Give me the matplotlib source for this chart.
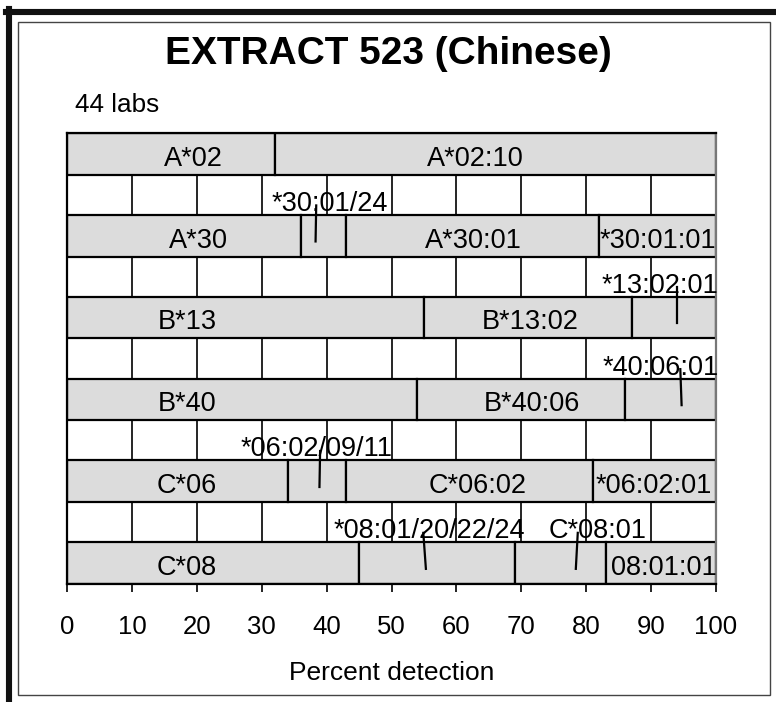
import matplotlib.pyplot as plt
from matplotlib.lines import Line2D
from matplotlib.patches import Rectangle

plt.rcParams["font.family"] = ["Liberation Sans", "DejaVu Sans"]

# one row per locus, top to bottom
rows = ["A*02", "A*30", "B*13", "B*40", "C*06", "C*08"]

# segment edges (percent detection) for each row
edges = [
    [0, 32, 100],
    [0, 36, 43, 82, 100],
    [0, 55, 87, 100],
    [0, 54, 86, 100],
    [0, 34, 43, 81, 100],
    [0, 45, 69, 83, 100],
]

# labels written inside the bars: (row, x, text)
inside_labels = [
    (0, 19.4, "A*02"), (0, 62.9, "A*02:10"),
    (1, 20.2, "A*30"), (1, 62.6, "A*30:01"), (1, 91.0, "*30:01:01"),
    (2, 18.5, "B*13"), (2, 71.3, "B*13:02"),
    (3, 18.5, "B*40"), (3, 71.6, "B*40:06"),
    (4, 18.5, "C*06"), (4, 63.2, "C*06:02"), (4, 90.4, "*06:02:01"),
    (5, 18.5, "C*08"), (5, 92.0, "08:01:01"),
]

# labels written above a bar with a leader line: (row, text x, text, line x top, line x bottom)
callouts = [
    (1, 40.5, "*30:01/24", 38.4, 38.3),
    (2, 91.3, "*13:02:01", 94.0, 94.0),
    (3, 91.4, "*40:06:01", 94.5, 94.7),
    (4, 38.4, "*06:02/09/11", 39.0, 38.9),
    (5, 55.8, "*08:01/20/22/24", 54.9, 55.3),
    (5, 81.7, "C*08:01", 78.7, 78.4),
]

x_ticks = list(range(0, 101, 10))

W, H = 776, 702
fig = plt.figure(figsize=(W / 100, H / 100), dpi=100)

# frame around the chart
fig.add_artist(Line2D([9 / W, 9 / W], [0, 1 - 9 / H], color="#111111", lw=4.4,
                      transform=fig.transFigure))
fig.add_artist(Line2D([6 / W, 1], [1 - 12 / H, 1 - 12 / H], color="#111111", lw=4.4,
                      transform=fig.transFigure))
fig.add_artist(Rectangle((18 / W, 1 - 695 / H), (770 - 18) / W, (695 - 22) / H,
                         fill=False, edgecolor="#444444", lw=1.0,
                         transform=fig.transFigure))

ax = fig.add_axes([67 / W, 1 - 584 / H, (716 - 67) / W, (584 - 133) / H])

bar_h = 0.51
for i, e in enumerate(edges):
    for a, b in zip(e[:-1], e[1:]):
        ax.barh(i, b - a, left=a, height=bar_h, color="#dcdcdc",
                edgecolor="black", linewidth=1.6, zorder=2)

for r, x, t in inside_labels:
    ax.text(x, r + 0.06, t, ha="center", va="center", fontsize=19.5, zorder=4)

for r, x, t, xt, xb in callouts:
    ax.text(x, r - 0.39, t, ha="center", va="center", fontsize=19.5, zorder=4)
    ax.plot([xt, xb], [r - 0.37, r + 0.07], color="black", lw=1.6, zorder=5)

ax.set_xlim(0, 100)
ax.set_ylim(len(rows) - 1 + bar_h / 2, -bar_h / 2)
ax.set_xticks(x_ticks)
ax.set_yticks([])
ax.xaxis.grid(True, color="black", lw=1.2)
ax.set_axisbelow(True)
ax.tick_params(axis="x", direction="out", length=6, width=1.2, pad=16, labelsize=18.5)
for s in ["top", "bottom", "left"]:
    ax.spines[s].set_linewidth(1.6)
ax.spines["right"].set_color("#777777")
ax.spines["right"].set_linewidth(1.6)

ax.set_xlabel("Percent detection", fontsize=19)
ax.xaxis.set_label_coords(0.5, -0.17)

fig.text(0.5, 1 - 54 / H, "EXTRACT 523 (Chinese)", ha="center", va="center",
         fontsize=28, fontweight="bold")
fig.text(75 / W, 1 - 105 / H, "44 labs", ha="left", va="center", fontsize=18.8)

fig.savefig("out.png", dpi=100)
